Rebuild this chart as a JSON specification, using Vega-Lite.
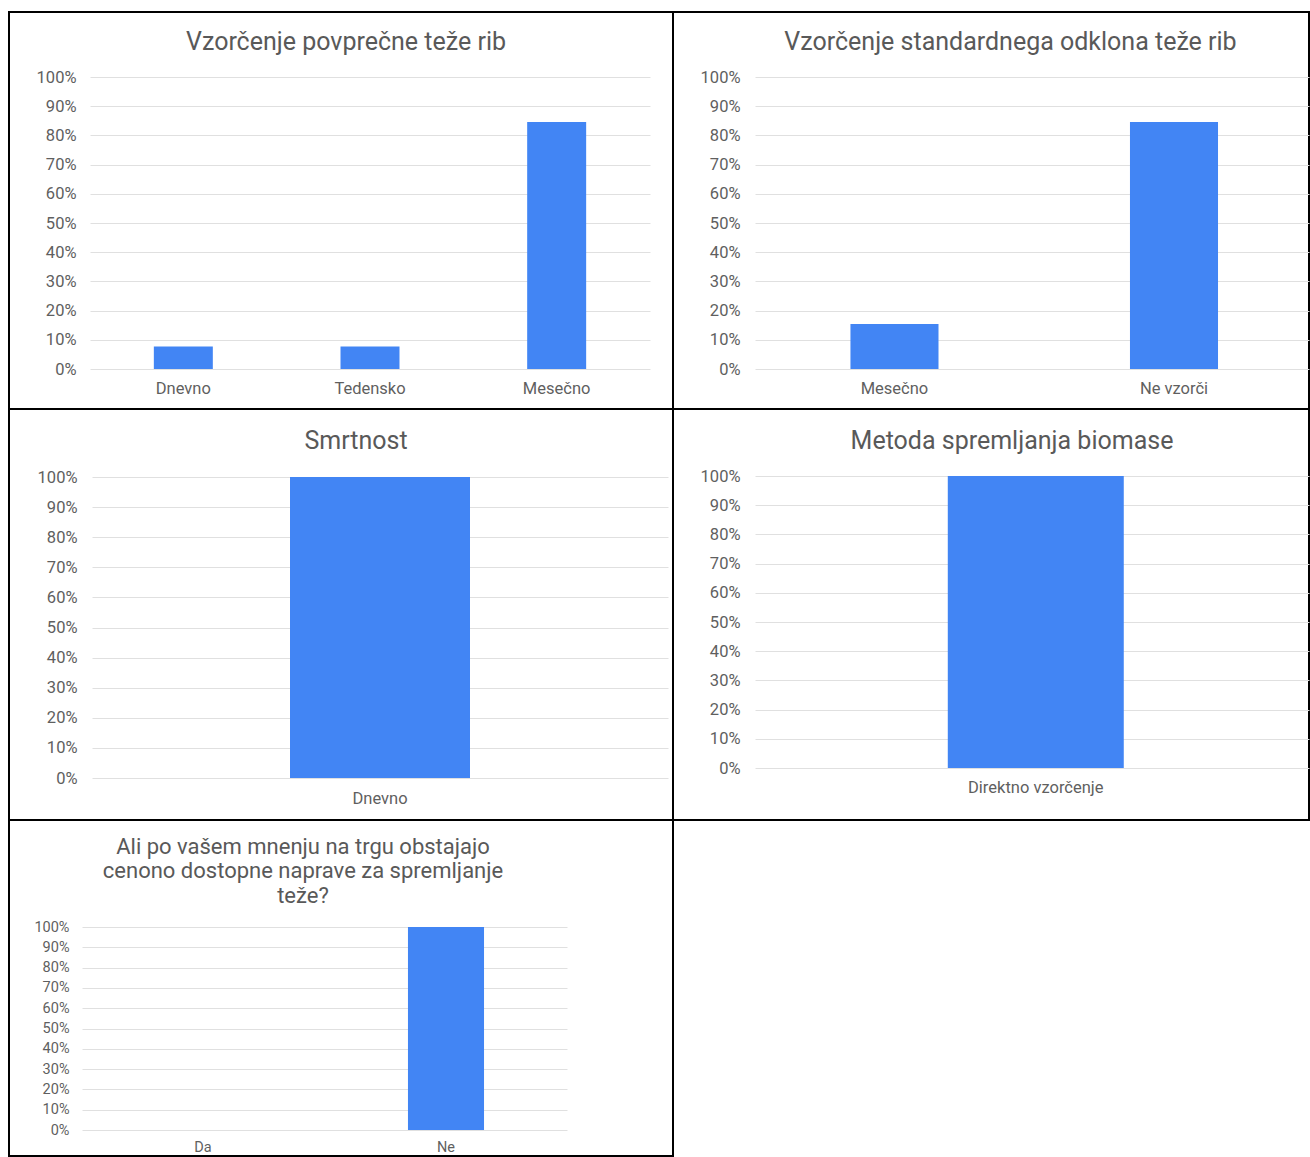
{
  "$schema": "https://vega.github.io/schema/vega-lite/v6.json",
  "description": "Five survey bar charts laid out as a 2-column table",
  "background": "white",
  "padding": {"left": 8, "top": 11, "right": 0, "bottom": 0},
  "columns": 2,
  "bounds": "flush",
  "align": "each",
  "spacing": 0,
  "concat": [
    {
      "width": 664,
      "height": 397,
      "title": {"text": "Vzorčenje povprečne teže rib", "dx": 5, "offset": -43},
      "data": {"values": [
        {"odgovor": "Dnevno", "delez": 0.077},
        {"odgovor": "Tedensko", "delez": 0.077},
        {"odgovor": "Mesečno", "delez": 0.846}
      ]},
      "mark": {"type": "bar", "color": "#4285F4"},
      "encoding": {
        "x": {"field": "odgovor", "type": "nominal", "sort": null, "title": null,
          "scale": {"range": [81, 641], "paddingInner": 0.684, "paddingOuter": 0.342, "align": 0.5},
          "axis": {"offset": -40, "labelPadding": 19}},
        "y": {"field": "delez", "type": "quantitative", "title": null,
          "scale": {"domain": [0, 1], "range": [357, 65], "nice": false},
          "axis": {"offset": -81, "labelPadding": 14}}
      }
    },
    {
      "width": 636,
      "height": 397,
      "title": {"text": "Vzorčenje standardnega odklona teže rib", "dx": 19.5, "offset": -43},
      "data": {"values": [
        {"odgovor": "Mesečno", "delez": 0.154},
        {"odgovor": "Ne vzorči", "delez": 0.846}
      ]},
      "mark": {"type": "bar", "color": "#4285F4"},
      "encoding": {
        "x": {"field": "odgovor", "type": "nominal", "sort": null, "title": null,
          "scale": {"range": [82, 636], "paddingInner": 0.685, "paddingOuter": 0.3335, "align": 0.512},
          "axis": {"offset": -40, "labelPadding": 19}},
        "y": {"field": "delez", "type": "quantitative", "title": null,
          "scale": {"domain": [0, 1], "range": [357, 65], "nice": false},
          "axis": {"offset": -82, "labelPadding": 15}}
      }
    },
    {
      "width": 664,
      "height": 411,
      "title": {"text": "Smrtnost", "dx": 15, "offset": -45},
      "data": {"values": [
        {"odgovor": "Dnevno", "delez": 1}
      ]},
      "mark": {"type": "bar", "color": "#4285F4"},
      "encoding": {
        "x": {"field": "odgovor", "type": "nominal", "sort": null, "title": null,
          "scale": {"range": [83, 659], "paddingInner": 0.6875, "paddingOuter": 0.34375, "align": 0.5},
          "axis": {"offset": -42, "labelPadding": 20}},
        "y": {"field": "delez", "type": "quantitative", "title": null,
          "scale": {"domain": [0, 1], "range": [369, 68], "nice": false},
          "axis": {"offset": -83, "labelPadding": 15}}
      }
    },
    {
      "width": 636,
      "height": 411,
      "title": {"text": "Metoda spremljanja biomase", "dx": 21, "offset": -45},
      "data": {"values": [
        {"odgovor": "Direktno vzorčenje", "delez": 1}
      ]},
      "mark": {"type": "bar", "color": "#4285F4"},
      "encoding": {
        "x": {"field": "odgovor", "type": "nominal", "sort": null, "title": null,
          "scale": {"range": [82, 636], "paddingInner": 0.5, "paddingOuter": 0.537, "align": 0.51},
          "axis": {"offset": -52, "labelPadding": 19.7}},
        "y": {"field": "delez", "type": "quantitative", "title": null,
          "scale": {"domain": [0, 1], "range": [359, 67], "nice": false},
          "axis": {"offset": -82, "labelPadding": 15}}
      }
    },
    {
      "width": 664,
      "height": 336,
      "title": {
        "text": ["Ali po vašem mnenju na trgu obstajajo", "cenono dostopne naprave za spremljanje", "teže?"],
        "dx": -38, "offset": -88, "fontSize": 22, "lineHeight": 24.7
      },
      "data": {"values": [
        {"odgovor": "Da", "delez": 0},
        {"odgovor": "Ne", "delez": 1}
      ]},
      "mark": {"type": "bar", "color": "#4285F4"},
      "encoding": {
        "x": {"field": "odgovor", "type": "nominal", "sort": null, "title": null,
          "scale": {"range": [73, 558], "paddingInner": 0.687, "paddingOuter": 0.3415, "align": 0.5},
          "axis": {"offset": -26, "labelPadding": 17, "labelFontSize": 14.5}},
        "y": {"field": "delez", "type": "quantitative", "title": null,
          "scale": {"domain": [0, 1], "range": [310, 107], "nice": false},
          "axis": {"offset": -73, "labelPadding": 13, "labelFontSize": 14.5}}
      }
    },
    {
      "width": 636,
      "height": 336,
      "data": {"values": [{}]},
      "mark": {"type": "text"},
      "encoding": {"text": {"value": ""}}
    }
  ],
  "config": {
    "font": "Roboto",
    "view": {"stroke": "#000000", "strokeWidth": 2},
    "title": {"frame": "group", "anchor": "middle", "fontSize": 25, "fontWeight": "normal", "color": "#595959", "font": "Roboto"},
    "axis": {
      "domain": false,
      "ticks": false,
      "labelFont": "Roboto",
      "labelFontSize": 16.5,
      "labelColor": "#5f5f5f",
      "gridColor": "#e0e0e0",
      "gridWidth": 1
    },
    "axisX": {"labelAngle": 0, "labelBaseline": "middle"},
    "axisY": {"values": [0, 0.1, 0.2, 0.3, 0.4, 0.5, 0.6, 0.7, 0.8, 0.9, 1], "format": ".0%"}
  }
}
